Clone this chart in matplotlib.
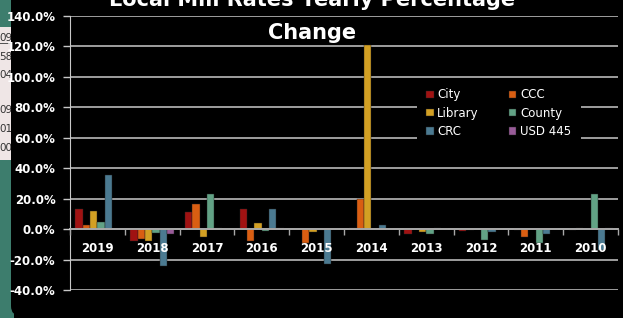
import numpy as np
import matplotlib
matplotlib.use("Agg")
import matplotlib.pyplot as plt
from matplotlib.patches import Rectangle, FancyBboxPatch
from matplotlib.transforms import IdentityTransform

# yearly percentage change by taxing entity
years = ['2019', '2018', '2017', '2016', '2015', '2014', '2013', '2012', '2011', '2010']
city = [13.1, -7.9, 11.1, 13.1, 0.0, 1.0, -3.5, -1.5, -0.5, -0.8]
ccc = [2.4, -6.6, 16.6, -7.5, -9.2, 19.9, 0.0, -0.4, -5.5, 0.8]
library = [11.8, -7.5, -5.2, 4.1, -2.0, 120.8, -2.0, 0.0, 0.0, 0.0]
county = [4.8, -2.6, 23.0, -1.0, -0.5, 0.0, -3.3, -7.2, -9.0, 23.2]
crc = [35.4, -24.5, 0.5, 13.3, -23.0, 2.8, 0.7, -1.8, -3.5, -14.0]
usd445 = [0.0, -3.3, 0.0, 1.0, 0.0, 0.0, 0.0, 0.0, 0.0, 1.0]

series = [('City', city, '#a01212'), ('CCC', ccc, '#d95e12'),
          ('Library', library, '#d3a023'), ('County', county, '#62a285'),
          ('CRC', crc, '#4b7a91'), ('USD 445', usd445, '#985b98')]

W, H = 623, 318
fig = plt.figure(figsize=(W / 100, H / 100), dpi=100, facecolor='black')

# spreadsheet fragment peeking in at the left edge
teal = '#3d7d6d'
fig.add_artist(Rectangle((0, 0), 14, H, transform=IdentityTransform(),
                         facecolor=teal, edgecolor='none', zorder=0))
fig.add_artist(Rectangle((0, H - 160), 14, 133, transform=IdentityTransform(),
                         facecolor='#efe6e6', edgecolor='none', zorder=1))
for yy, s in [(41, '09'), (60, '58'), (78, '04'), (113, '09'), (132, '01'), (151, '00')]:
    fig.text(12, H - yy, s, transform=IdentityTransform(), ha='right',
             va='baseline', fontsize=7.5, color='#333333', zorder=2)
fig.add_artist(Rectangle((0, H - 44), 14, 1.2, transform=IdentityTransform(),
                         facecolor='#555555', edgecolor='none', zorder=2))
fig.add_artist(FancyBboxPatch((11, 2), 700, 400, transform=IdentityTransform(),
                              boxstyle='round,pad=0,rounding_size=10',
                              facecolor='black', edgecolor='none', zorder=3))

ax = fig.add_axes([70 / W, 1 - 290 / H, 548 / W, 274 / H])
ax.set_zorder(5)
ax.set_facecolor('none')

x = np.arange(len(years))
bw = 0.134
for i, (name, vals, col) in enumerate(series):
    ax.bar(x + (i - 2.5) * bw, vals, bw, color=col, label=name, zorder=2,
           edgecolor='#222222', linewidth=0.3)

ax.set_xlim(-0.5, len(years) - 0.5)
ax.set_ylim(-40, 140)
yt = np.arange(-40, 141, 20)
for v in yt:
    ax.axhline(v, color='#c8c8c8', lw=1.1, zorder=1)
ax.set_yticks(yt)
ax.set_yticklabels(['%.1f%%' % v for v in yt])
ax.tick_params(axis='y', colors='#c8c8c8', length=5, width=1, pad=5.5,
               labelcolor='white', labelsize=8.5)
for lab in ax.get_yticklabels():
    lab.set_fontweight('bold')

ax.spines['top'].set_visible(False)
ax.spines['right'].set_visible(False)
ax.spines['left'].set_color('#c8c8c8')
ax.spines['bottom'].set_position(('data', 0))
ax.spines['bottom'].set_color('#a8a8a8')
ax.spines['bottom'].set_linewidth(1.4)
ax.set_axisbelow(False)

ax.set_xticks(x)
ax.set_xticklabels(years, fontweight='bold')
ax.set_xticks(np.arange(-0.5, len(years)), minor=True)
ax.tick_params(axis='x', which='major', length=0, pad=9, labelcolor='white',
               labelsize=8.5)
ax.tick_params(axis='x', which='minor', length=4, width=1, color='#a8a8a8')

h, l = ax.get_legend_handles_labels()
order = [0, 2, 4, 1, 3, 5]
leg = ax.legend([h[k] for k in order], [l[k] for k in order], ncol=2,
                loc='upper left', bbox_to_anchor=(347 / 548, (290 - 79) / 274),
                bbox_transform=ax.transAxes, borderaxespad=0, frameon=True,
                facecolor='black', edgecolor='none', framealpha=1,
                fontsize=8.5, handlelength=0.6, handleheight=0.6,
                handletextpad=0.3, columnspacing=2.6, labelspacing=0.45,
                borderpad=0.8, fancybox=False)
for t in leg.get_texts():
    t.set_color('white')
leg.set_zorder(4)

fig.text(312 / W, 1 - 43 / H, 'Local Mill Rates Yearly Percentage\nChange',
         ha='center', va='bottom', multialignment='center', color='white',
         fontsize=15, fontweight='bold', linespacing=1.8, zorder=6)

fig.savefig('out.png', dpi=100, facecolor='black')
